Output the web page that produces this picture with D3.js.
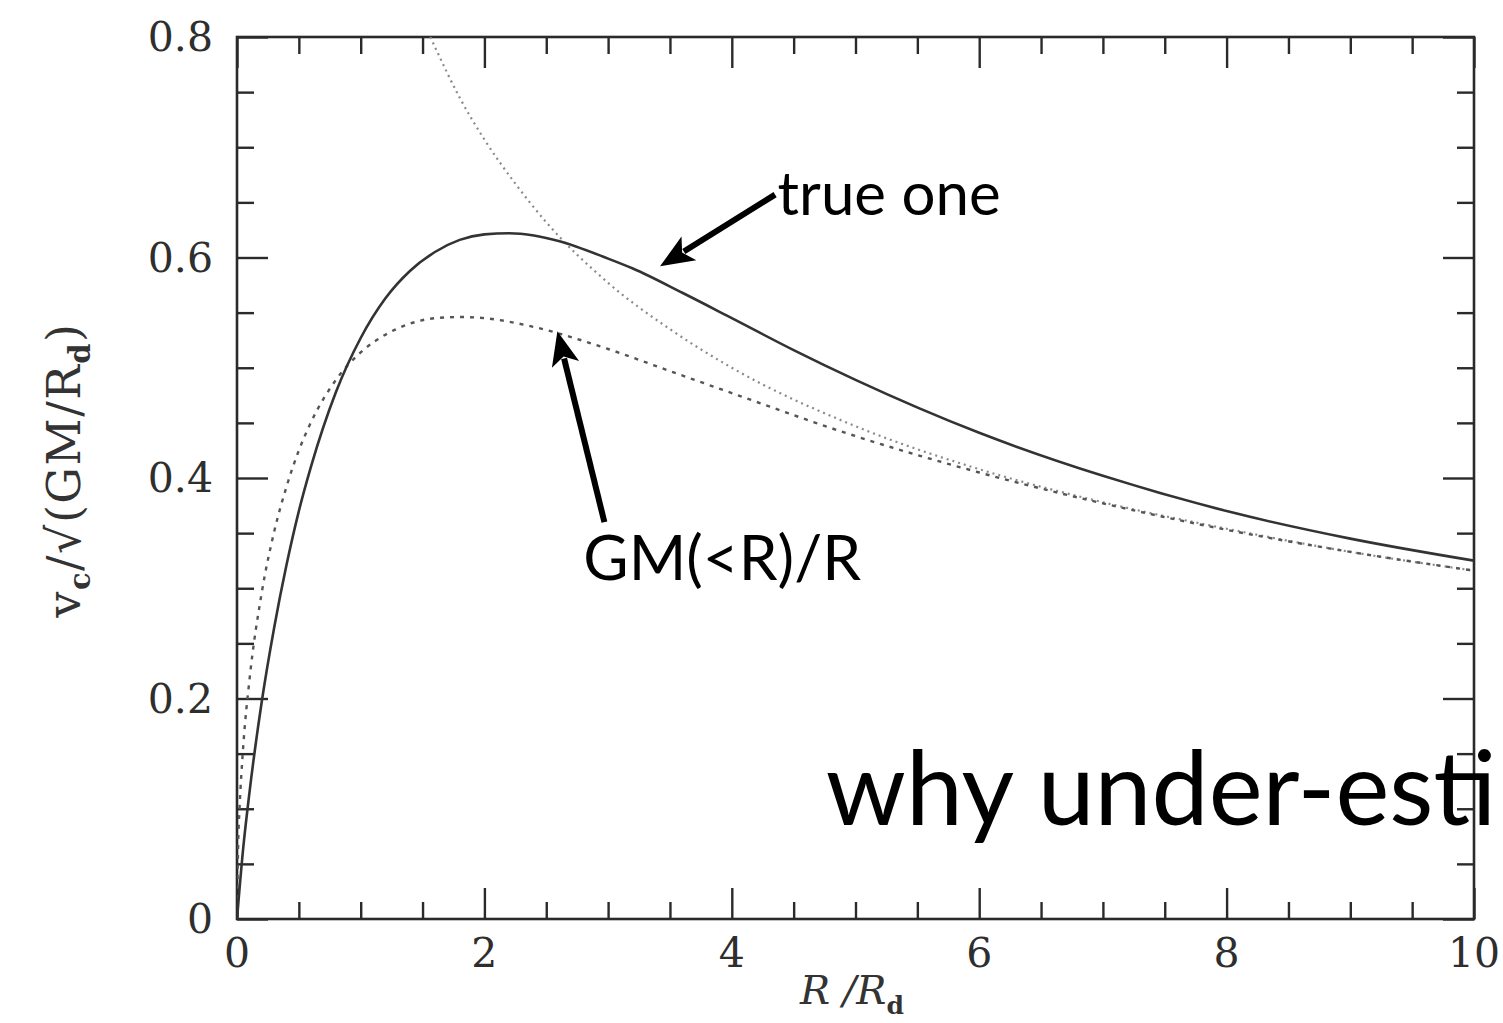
<!DOCTYPE html>
<html>
<head>
<meta charset="utf-8">
<script src="https://cdn.jsdelivr.net/npm/d3@7"></script>
<style>
    html, body { margin: 0; padding: 0; background: #fff; overflow: hidden; }
    svg { display: block; }
</style>
</head>
<body>
<script>
// rotation curve of an exponential disk
var trueR = [0, 0.05, 0.1, 0.2, 0.3, 0.4, 0.5, 0.6, 0.8, 1, 1.2, 1.4, 1.6, 1.8, 2, 2.2, 2.4, 2.6, 3, 3.2, 3.6, 4, 4.5, 5, 6, 7, 8, 9, 10];
var trueV = [0, 0.064, 0.114, 0.197, 0.264, 0.321, 0.370, 0.411, 0.478, 0.527, 0.563, 0.588, 0.605, 0.616, 0.621, 0.622, 0.620, 0.615, 0.599, 0.590, 0.568, 0.545, 0.516, 0.489, 0.441, 0.402, 0.370, 0.345, 0.325];

// spherical estimate GM(<R)/R
var massR = [0, 0.01, 0.02, 0.05, 0.1, 0.2, 0.3, 0.4, 0.5, 0.6, 0.8, 1, 1.2, 1.4, 1.6, 1.8, 2, 2.4, 3, 3.5, 4, 5, 6, 7, 8, 9, 10];
var massV = [0, 0.071, 0.099, 0.156, 0.216, 0.296, 0.351, 0.392, 0.425, 0.451, 0.489, 0.514, 0.530, 0.540, 0.545, 0.546, 0.545, 0.537, 0.517, 0.497, 0.477, 0.438, 0.405, 0.377, 0.353, 0.333, 0.316];

// point mass (Keplerian) curve
var keplerR = [1.5625, 1.6, 1.8, 2, 2.25, 2.5, 3, 3.5, 4, 5, 6, 7, 8, 9, 10];
var keplerV = [0.8, 0.791, 0.745, 0.707, 0.667, 0.632, 0.577, 0.535, 0.5, 0.447, 0.408, 0.378, 0.354, 0.333, 0.316];

var xMajor = [0, 2, 4, 6, 8, 10];
var yMajor = [0, 0.2, 0.4, 0.6, 0.8];
var yTickLabels = ["0", "0.2", "0.4", "0.6", "0.8"];

var width = 1503, height = 1023;
var plot = { left: 237, right: 1474, top: 37, bottom: 919 };

var svg = d3.select("body").append("svg")
    .attr("width", width)
    .attr("height", height);

var x = d3.scaleLinear().domain([0, 10]).range([plot.left, plot.right]);
var y = d3.scaleLinear().domain([0, 0.8]).range([plot.bottom, plot.top]);

var xMinor = d3.range(0, 10.01, 0.5).filter(function (d) { return xMajor.indexOf(d) < 0; });
var yMinor = d3.range(0, 0.801, 0.05).filter(function (d) {
    return yMajor.every(function (m) { return Math.abs(m - d) > 1e-6; });
});

/**
 * Draw inward ticks for one side of the frame
 */
function drawTicks(axisFn, scale, values, size, translate) {
    var g = svg.append("g")
        .attr("transform", translate)
        .call(axisFn(scale).tickValues(values).tickSize(-size).tickFormat(""));
    g.select(".domain").remove();
    g.selectAll(".tick line").attr("stroke", "#2a2a2a").attr("stroke-width", 2.4);
    return g;
}

drawTicks(d3.axisBottom, x, xMajor, 31, "translate(0," + plot.bottom + ")");
drawTicks(d3.axisBottom, x, xMinor, 17, "translate(0," + plot.bottom + ")");
drawTicks(d3.axisTop, x, xMajor, 31, "translate(0," + plot.top + ")");
drawTicks(d3.axisTop, x, xMinor, 17, "translate(0," + plot.top + ")");
drawTicks(d3.axisLeft, y, yMajor, 31, "translate(" + plot.left + ",0)");
drawTicks(d3.axisLeft, y, yMinor, 17, "translate(" + plot.left + ",0)");
drawTicks(d3.axisRight, y, yMajor, 31, "translate(" + plot.right + ",0)");
drawTicks(d3.axisRight, y, yMinor, 17, "translate(" + plot.right + ",0)");

// frame
svg.append("rect")
    .attr("x", plot.left).attr("y", plot.top)
    .attr("width", plot.right - plot.left)
    .attr("height", plot.bottom - plot.top)
    .attr("fill", "none")
    .attr("stroke", "#2a2a2a")
    .attr("stroke-width", 2.6);

// tick labels
var labelFont = "'DejaVu Serif', serif";
svg.append("g").selectAll("text")
    .data(xMajor)
    .join("text")
    .attr("x", function (d) { return x(d); })
    .attr("y", plot.bottom + 48)
    .attr("text-anchor", "middle")
    .attr("font-family", labelFont)
    .attr("font-size", 41)
    .attr("fill", "#2e2e2e")
    .text(function (d) { return d; });

svg.append("g").selectAll("text")
    .data(yMajor)
    .join("text")
    .attr("x", plot.left - 24)
    .attr("y", function (d) { return y(d) + 14; })
    .attr("text-anchor", "end")
    .attr("font-family", labelFont)
    .attr("font-size", 41)
    .attr("fill", "#2e2e2e")
    .text(function (d, i) { return yTickLabels[i]; });

// axis titles
var xTitle = svg.append("text")
    .attr("x", 852)
    .attr("y", 1004)
    .attr("text-anchor", "middle")
    .attr("font-family", labelFont)
    .attr("font-style", "italic")
    .attr("font-size", 40)
    .attr("fill", "#333");
xTitle.append("tspan").text("R /R");
xTitle.append("tspan").attr("dy", 10).attr("font-size", 25).attr("font-style", "normal").attr("font-weight", "bold").text("d");

var yTitle = svg.append("text")
    .attr("transform", "translate(80,470) rotate(-90)")
    .attr("text-anchor", "middle")
    .attr("font-family", labelFont)
    .attr("font-size", 46)
    .attr("letter-spacing", 1.5)
    .attr("fill", "#333");
yTitle.append("tspan").text("v");
yTitle.append("tspan").attr("dy", 10).attr("font-size", 29).attr("font-weight", "bold").text("c");
yTitle.append("tspan").attr("dy", -10).text("/√(GM/R");
yTitle.append("tspan").attr("dy", 10).attr("font-size", 29).attr("font-weight", "bold").text("d");
yTitle.append("tspan").attr("dy", -10).text(")");

// curves
svg.append("clipPath").attr("id", "plot-clip")
    .append("rect")
    .attr("x", plot.left).attr("y", plot.top)
    .attr("width", plot.right - plot.left)
    .attr("height", plot.bottom - plot.top);

var line = d3.line()
    .x(function (d) { return x(d[0]); })
    .y(function (d) { return y(d[1]); })
    .curve(d3.curveMonotoneX);

var curves = svg.append("g").attr("clip-path", "url(#plot-clip)");

curves.append("path")
    .datum(d3.zip(keplerR, keplerV))
    .attr("d", line)
    .attr("fill", "none")
    .attr("stroke", "#8a8a8a")
    .attr("stroke-width", 2.2)
    .attr("stroke-dasharray", "2,4");

curves.append("path")
    .datum(d3.zip(massR, massV))
    .attr("d", line)
    .attr("fill", "none")
    .attr("stroke", "#555")
    .attr("stroke-width", 2.4)
    .attr("stroke-dasharray", "4,6");

curves.append("path")
    .datum(d3.zip(trueR, trueV))
    .attr("d", line)
    .attr("fill", "none")
    .attr("stroke", "#333")
    .attr("stroke-width", 2.6);

/**
 * Thick black arrow from tail to tip (data coordinates)
 */
function drawArrow(tail, tip) {
    var x0 = x(tail[0]), y0 = y(tail[1]), x1 = x(tip[0]), y1 = y(tip[1]);
    var ang = Math.atan2(y1 - y0, x1 - x0);
    var headLen = 34, headHalf = 14;
    var bx = x1 - headLen * Math.cos(ang), by = y1 - headLen * Math.sin(ang);
    svg.append("line")
        .attr("x1", x0).attr("y1", y0)
        .attr("x2", bx + 6 * Math.cos(ang)).attr("y2", by + 6 * Math.sin(ang))
        .attr("stroke", "#000")
        .attr("stroke-width", 6);
    var pts = [
        [x1, y1],
        [bx - headHalf * Math.sin(ang), by + headHalf * Math.cos(ang)],
        [bx + 8 * Math.cos(ang), by + 8 * Math.sin(ang)],
        [bx + headHalf * Math.sin(ang), by - headHalf * Math.cos(ang)]
    ];
    svg.append("polygon")
        .attr("points", pts.map(function (p) { return p.join(","); }).join(" "))
        .attr("fill", "#000");
}

drawArrow([4.35, 0.657], [3.42, 0.592]);
drawArrow([2.97, 0.360], [2.59, 0.533]);

// annotations
var noteFont = "Lato, 'Open Sans', sans-serif";
svg.append("text")
    .attr("x", x(4.37)).attr("y", y(0.639))
    .attr("font-family", noteFont)
    .attr("font-size", 60)
    .attr("fill", "#000")
    .text("true one");

svg.append("text")
    .attr("x", x(2.80)).attr("y", y(0.3075))
    .attr("font-family", noteFont)
    .attr("font-size", 62)
    .attr("fill", "#000")
    .text("GM(<R)/R");

svg.append("text")
    .attr("x", x(4.76)).attr("y", y(0.0853))
    .attr("font-family", noteFont)
    .attr("font-size", 102)
    .attr("fill", "#000")
    .text("why under-estimate");
</script>
</body>
</html>
